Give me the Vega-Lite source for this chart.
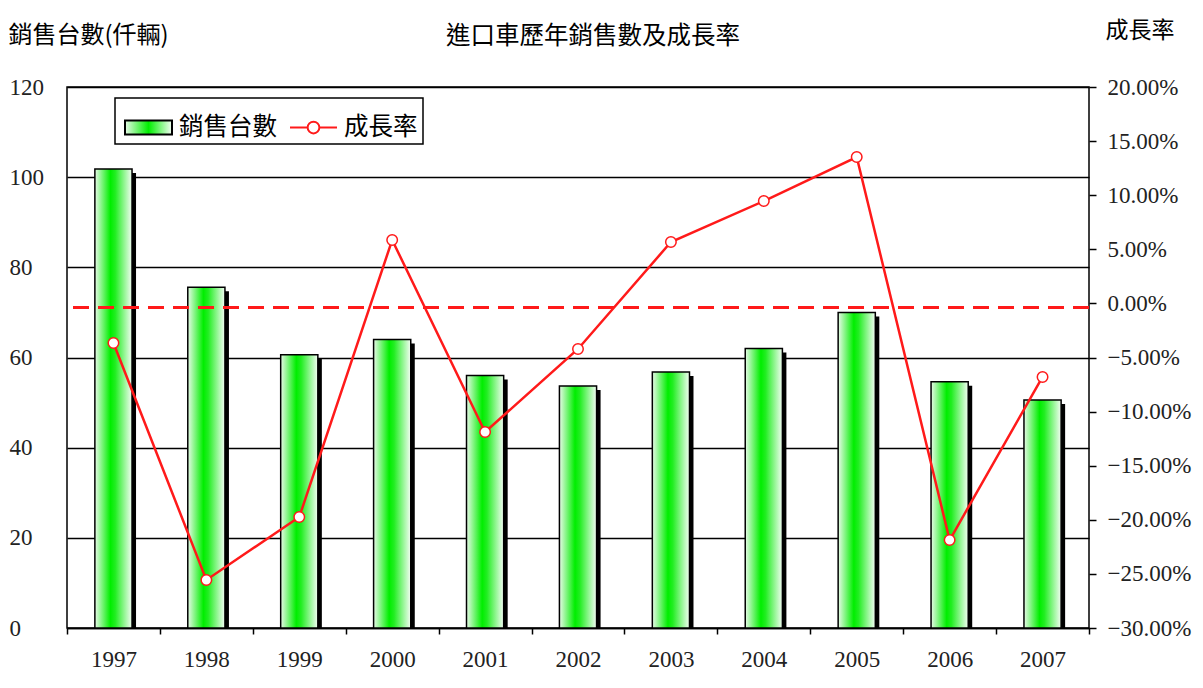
{
  "$schema": "https://vega.github.io/schema/vega-lite/v6.json",
  "autosize": "none",
  "width": 1022,
  "height": 541,
  "padding": {"left": 67, "top": 87, "right": 114, "bottom": 60},
  "background": "white",
  "config": {
    "view": {"stroke": "black", "strokeWidth": 1.5},
    "font": "Noto Sans CJK TC",
    "axis": {"ticks": true, "tickColor": "black", "tickOpacity": 1}
  },
  "title": {
    "text": "進口車歷年銷售數及成長率",
    "frame": "group",
    "font": "Noto Sans CJK TC",
    "fontSize": 24.5,
    "fontWeight": "normal",
    "color": "black",
    "offset": -30,
    "dx": 15
  },
  "data": {
    "values": [
      {"year": "1997", "sales": 101.8, "growth": -0.0366},
      {"year": "1998", "sales": 75.6, "growth": -0.2556},
      {"year": "1999", "sales": 60.6, "growth": -0.1974},
      {"year": "2000", "sales": 64.0, "growth": 0.0586},
      {"year": "2001", "sales": 56.0, "growth": -0.1189},
      {"year": "2002", "sales": 53.7, "growth": -0.0421},
      {"year": "2003", "sales": 56.8, "growth": 0.0567},
      {"year": "2004", "sales": 62.0, "growth": 0.0946},
      {"year": "2005", "sales": 70.0, "growth": 0.1353},
      {"year": "2006", "sales": 54.6, "growth": -0.2187},
      {"year": "2007", "sales": 50.6, "growth": -0.068}
    ]
  },
  "encoding": {
    "x": {
      "field": "year",
      "type": "ordinal",
      "scale": {"paddingInner": 0, "paddingOuter": 0},
      "axis": {
        "title": null,
        "labelAngle": 0,
        "labelFont": "Liberation Serif",
        "labelFontSize": 23,
        "labelColor": "#222",
        "labelPadding": 14,
        "ticks": true,
        "tickBand": "extent",
        "tickSize": 6,
        "tickColor": "black",
        "tickOpacity": 1,
        "tickWidth": 1.5,
        "domainColor": "black",
        "domainWidth": 1.5
      }
    }
  },
  "layer": [
    {
      "layer": [
        {
          "mark": {"type": "bar", "color": "black", "width": {"band": 0.4}, "xOffset": 4, "yOffset": 4, "clip": true},
          "encoding": {
            "y": {
              "field": "sales",
              "type": "quantitative",
              "scale": {"domain": [0, 120]},
              "axis": {
                "orient": "left",
                "values": [0, 20, 40, 60, 80, 100, 120],
                "grid": true,
                "gridColor": "black",
                "gridWidth": 1.5,
                "gridOpacity": 1,
                "domain": false,
                "ticks": false,
                "labelAlign": "left",
                "labelPadding": 58,
                "labelFont": "Liberation Serif",
                "labelFontSize": 23,
                "labelColor": "#222",
                "title": "銷售台數(仟輛)",
                "titleFont": "Noto Sans CJK TC",
                "titleFontSize": 24,
                "titleFontWeight": "normal",
                "titleColor": "black",
                "titleAngle": 0,
                "titleAlign": "left",
                "titleBaseline": "middle",
                "titleX": -59,
                "titleY": -52
              }
            }
          }
        },
        {
          "mark": {
            "type": "bar",
            "width": {"band": 0.4},
            "stroke": "black",
            "strokeWidth": 1.5,
            "fill": {
              "gradient": "linear",
              "x1": 0, "y1": 0, "x2": 1, "y2": 0,
              "stops": [
                {"offset": 0, "color": "#e8fae8"},
                {"offset": 0.42, "color": "#00ee00"},
                {"offset": 0.55, "color": "#22ee22"},
                {"offset": 1, "color": "#f4fdf4"}
              ]
            }
          },
          "encoding": {
            "y": {
              "field": "sales",
              "type": "quantitative",
              "scale": {"domain": [0, 120]}
            }
          }
        }
      ]
    },
    {
      "layer": [
        {
          "mark": {"type": "line", "strokeWidth": 2.5},
          "encoding": {
            "y": {
              "field": "growth",
              "type": "quantitative",
              "scale": {"domain": [-0.3, 0.2]},
              "axis": {
                "orient": "right",
                "values": [-0.3, -0.25, -0.2, -0.15, -0.1, -0.05, 0, 0.05, 0.1, 0.15, 0.2],
                "format": ".2%",
                "grid": false,
                "domain": false,
                "ticks": true,
                "tickSize": 7,
                "tickColor": "black",
                "tickOpacity": 1,
                "tickWidth": 1.5,
                "labelPadding": 11,
                "labelFont": "Liberation Serif",
                "labelFontSize": 23,
                "labelColor": "#222",
                "title": "成長率",
                "titleFont": "Noto Sans CJK TC",
                "titleFontSize": 23,
                "titleFontWeight": "normal",
                "titleColor": "black",
                "titleAngle": 0,
                "titleAlign": "left",
                "titleBaseline": "middle",
                "titleX": 16,
                "titleY": -57
              }
            },
            "color": {
              "datum": "成長率",
              "type": "nominal",
              "scale": {"domain": ["銷售台數", "成長率"], "range": ["#000000", "#ff1a1a"]},
              "legend": {
                "title": null,
                "orient": "none",
                "legendX": 48,
                "legendY": 11,
                "direction": "horizontal",
                "strokeColor": "black",
                "fillColor": "white",
                "padding": 5,
                "labelFont": "Noto Sans CJK TC",
                "labelFontSize": 24.5,
                "labelColor": "black",
                "symbolSize": 2209,
                "symbolOffset": 4,
                "labelOffset": 6,
                "columnPadding": 8,
                "encode": {
                  "legend": {
                    "update": {
                      "strokeWidth": {"value": 1.5}
                    }
                  },
                  "symbols": {
                    "update": {
                      "shape": [
                        {"test": "datum.value === '成長率'", "value": "M-1,0H-0.25M0.25,0H1M-0.25,0A0.25,0.25,0,1,1,0.25,0A0.25,0.25,0,1,1,-0.25,0Z"},
                        {"value": "M-1,-0.3H1V0.3H-1Z"}
                      ],
                      "fill": [
                        {"test": "datum.value === '成長率'", "value": "white"},
                        {"value": {
                          "gradient": "linear",
                          "x1": 0, "y1": 0, "x2": 1, "y2": 0,
                          "stops": [
                            {"offset": 0, "color": "#e8fae8"},
                            {"offset": 0.5, "color": "#00ee00"},
                            {"offset": 1, "color": "#f4fdf4"}
                          ]
                        }}
                      ],
                      "fillOpacity": {"value": 1},
                      "stroke": [
                        {"test": "datum.value === '成長率'", "value": "#ff1a1a"},
                        {"value": "black"}
                      ],
                      "strokeWidth": {"value": 2}
                    }
                  }
                }
              }
            }
          }
        },
        {
          "mark": {"type": "rule", "color": "#ff1a1a", "strokeWidth": 2.5, "strokeDash": [16, 9]},
          "encoding": {
            "x": null,
            "y": {
              "datum": -0.004,
              "type": "quantitative",
              "scale": {"domain": [-0.3, 0.2]}
            }
          }
        },
        {
          "mark": {"type": "point", "filled": true, "fill": "white", "stroke": "#ff1a1a", "strokeWidth": 1.5, "size": 110, "opacity": 1},
          "encoding": {
            "y": {
              "field": "growth",
              "type": "quantitative",
              "scale": {"domain": [-0.3, 0.2]}
            }
          }
        }
      ]
    }
  ],
  "resolve": {"scale": {"y": "independent"}}
}
